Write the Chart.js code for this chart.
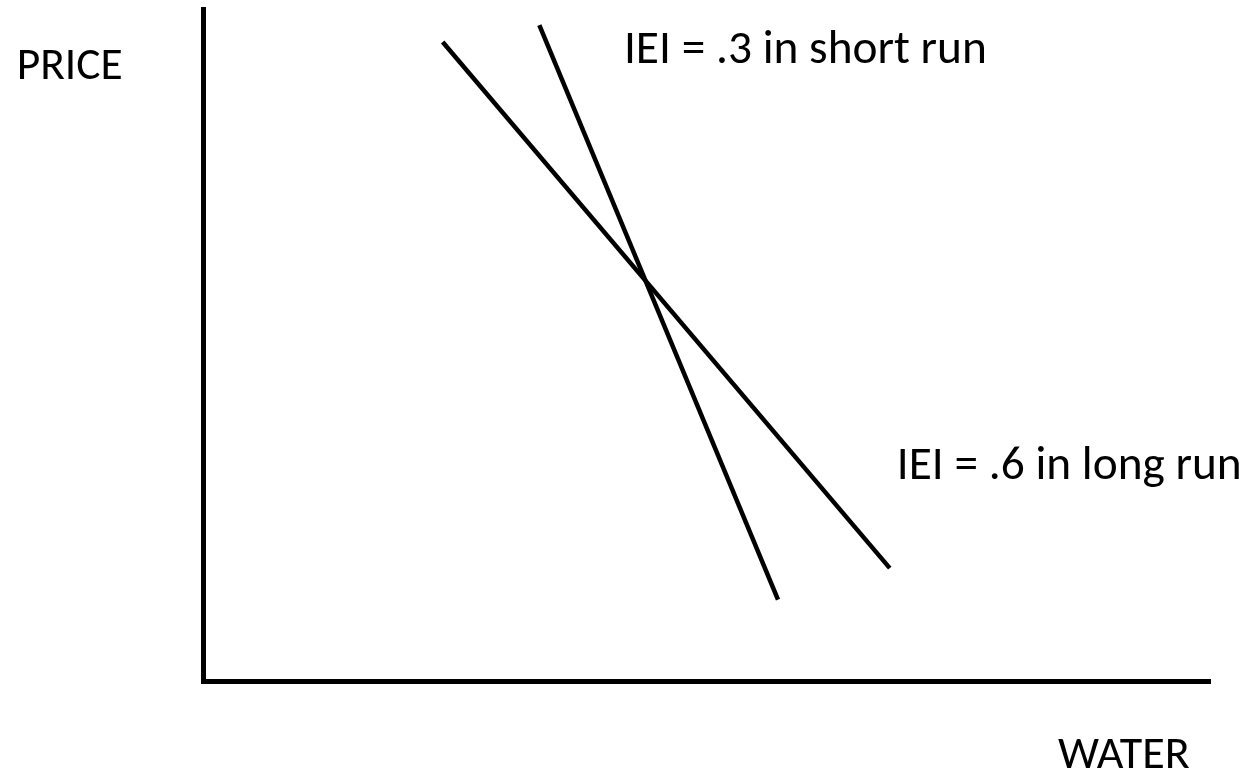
<!DOCTYPE html>
<html>
<head>
<meta charset="utf-8">
<script src="https://cdn.jsdelivr.net/npm/chart.js@4/dist/chart.umd.min.js"></script>
<style>
  html, body { margin: 0; padding: 0; background: #fff; }
  #wrap { position: relative; width: 1252px; height: 776px; }
</style>
</head>
<body>
<div id="wrap"><canvas id="chart"></canvas></div>
<script>
// Quantity of water (x) vs price (y), both on a 0-100 scale
const longRunX = [23.8, 68.2];
const longRunY = [95.1, 16.8];
const shortRunX = [33.4, 57.1];
const shortRunY = [97.6, 12.1];

// Annotation texts, anchored in data units
const noteTexts = ["IEI = .3 in short run", "IEI = .6 in long run", "PRICE", "WATER"];
const noteX = [41.8, 68.9, -18.5, 98.0];
const noteY = [92.0, 30.1, 89.6, -12.9];
const noteAlign = ["left", "left", "left", "right"];
// width each text takes in the picture, used to fit the substitute font
const noteWidth = [363, 345, 106, 132];

const FONT_FAMILY = "Carlito, Calibri, 'Open Sans', Lato, sans-serif";

const toPoints = (xs, ys) => xs.map((x, i) => ({ x, y: ys[i] }));

const notesPlugin = {
    id: "notes",
    afterDraw(chart) {
        const { ctx, scales } = chart;
        ctx.save();
        ctx.fillStyle = "#000";
        ctx.textBaseline = "alphabetic";
        noteTexts.forEach((text, i) => {
            ctx.font = `45px ${FONT_FAMILY}`;
            const size = 45 * noteWidth[i] / ctx.measureText(text).width;
            ctx.font = `${size.toFixed(2)}px ${FONT_FAMILY}`;
            ctx.textAlign = noteAlign[i];
            ctx.fillText(text, scales.x.getPixelForValue(noteX[i]), scales.y.getPixelForValue(noteY[i]));
        });
        ctx.restore();
    },
};

const lineStyle = {
    borderColor: "#000",
    borderWidth: 4.5,
    pointRadius: 0,
    showLine: true,
    fill: false,
};

new Chart(document.getElementById("chart"), {
    type: "scatter",
    data: {
        datasets: [
            { label: "long run", data: toPoints(longRunX, longRunY), ...lineStyle },
            { label: "short run", data: toPoints(shortRunX, shortRunY), ...lineStyle },
        ],
    },
    options: {
        responsive: true,
        maintainAspectRatio: false,
        animation: false,
        layout: { padding: { left: 203, right: 42, top: 9, bottom: 95 } },
        plugins: {
            legend: { display: false },
            tooltip: { enabled: false },
        },
        scales: {
            x: {
                type: "linear",
                min: 0,
                max: 100,
                grid: { display: false, drawTicks: false },
                ticks: { display: false },
                border: { display: true, color: "#000", width: 5 },
            },
            y: {
                type: "linear",
                min: 0,
                max: 100,
                grid: { display: false, drawTicks: false },
                ticks: { display: false },
                border: { display: true, color: "#000", width: 5 },
            },
        },
    },
    plugins: [notesPlugin],
});
</script>
</body>
</html>
